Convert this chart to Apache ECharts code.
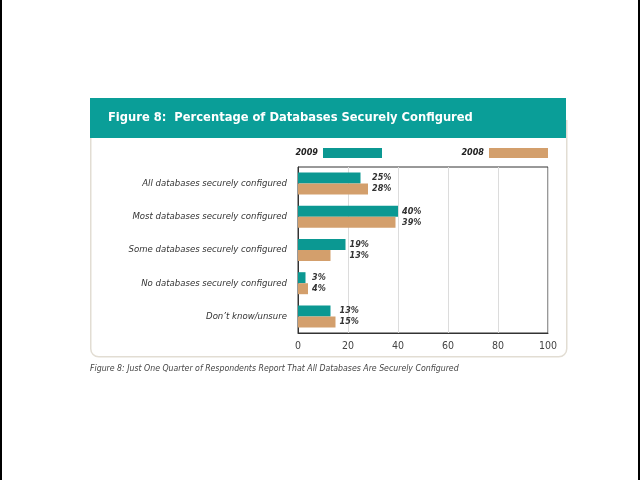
<!DOCTYPE html>
<html>
<head>
<meta charset="utf-8">
<script src="https://cdn.jsdelivr.net/npm/echarts@6/dist/echarts.min.js"></script>
<style>
  html, body { margin: 0; padding: 0; background: #fff; }
  #chart { width: 640px; height: 480px; }
</style>
</head>
<body>
<div id="chart"></div>
<script>
const categories = [
  'All databases securely configured',
  'Most databases securely configured',
  'Some databases securely configured',
  'No databases securely configured',
  'Don\u2019t know/unsure'
]
const values2009 = [25, 40, 19, 3, 13]
const values2008 = [28, 39, 13, 4, 15]
const xTicks = [0, 20, 40, 60, 80, 100]

const FONT = "'Liberation Sans Narrow', 'DejaVu Sans Condensed', 'Roboto Condensed', sans-serif"
const TEAL = '#0b9892'
const TAN = '#d39f6c'

// plot box
const gridLeft = 298, gridRight = 92, gridTop = 167, gridBottom = 147
const plotWidth = 640 - gridLeft - gridRight
const pxPerUnit = plotWidth / (xTicks[xTicks.length - 1] - xTicks[0])

// both labels of a category sit just right of the longer bar
const withLabels = (vals, other) => vals.map((v, i) => ({
  value: v,
  label: { offset: [(Math.max(v, other[i]) - v) * pxPerUnit, 0] }
}))

const labelStyle = {
  show: true,
  position: 'right',
  distance: 4,
  formatter: '{c}%',
  fontFamily: FONT,
  fontStyle: 'italic',
  fontWeight: 'bold',
  fontSize: 9,
  color: '#333'
}

const legendText = { fontFamily: FONT, fontStyle: 'italic', fontWeight: 'bold', fontSize: 9, color: '#222' }

const chart = echarts.init(document.getElementById('chart'), null, { renderer: 'canvas' })
chart.setOption({
  animation: false,
  backgroundColor: '#fff',
  textStyle: { fontFamily: FONT },
  graphic: [
    { type: 'rect', left: 0, top: 0, shape: { width: 2, height: 480 }, style: { fill: '#000' } },
    { type: 'rect', left: 638, top: 0, shape: { width: 2, height: 480 }, style: { fill: '#000' } },
    { type: 'rect', left: 90, top: 120, z: -10,
      shape: { width: 476, height: 236, r: [0, 0, 8, 8] },
      style: { fill: '#fff', stroke: '#e2ddd3', lineWidth: 1.5 } },
    { type: 'rect', left: 90, top: 98, shape: { width: 476, height: 40 }, style: { fill: '#0a9e98' } },
    { type: 'text', left: 108, top: 111,
      style: { text: 'Figure 8:  Percentage of Databases Securely Configured',
        fill: '#fff', font: "bold 12.8px " + FONT } },
    { type: 'text', left: 90, top: 364,
      style: { text: 'Figure 8: Just One Quarter of Respondents Report That All Databases Are Securely Configured',
        fill: '#444', font: "italic 8.7px " + FONT } }
  ],
  legend: [
    { data: ['2009'], right: 258, top: 148, padding: 0, align: 'right', itemWidth: 59, itemHeight: 10,
      icon: 'rect', textStyle: legendText },
    { data: ['2008'], right: 92, top: 148, padding: 0, align: 'right', itemWidth: 59, itemHeight: 10,
      icon: 'rect', textStyle: legendText }
  ],
  grid: {
    left: gridLeft, right: gridRight, top: gridTop, bottom: gridBottom,
    show: true, borderColor: '#333', borderWidth: 1, containLabel: false
  },
  xAxis: {
    type: 'value',
    min: xTicks[0], max: xTicks[xTicks.length - 1], interval: 20,
    axisLine: { show: true, lineStyle: { color: '#333' } },
    axisTick: { show: false },
    axisLabel: { color: '#444', fontSize: 10.5, fontFamily: FONT, margin: 8 },
    splitLine: { show: true, lineStyle: { color: '#dcdcdc' } }
  },
  yAxis: {
    type: 'category',
    data: categories,
    inverse: true,
    axisLine: { show: true, lineStyle: { color: '#333' } },
    axisTick: { show: false },
    axisLabel: { color: '#333', fontSize: 9.5, fontFamily: FONT, fontStyle: 'italic', margin: 11 }
  },
  series: [
    { name: '2009', type: 'bar', data: withLabels(values2009, values2008),
      barWidth: 11, barGap: '0%', itemStyle: { color: TEAL }, label: labelStyle },
    { name: '2008', type: 'bar', data: withLabels(values2008, values2009),
      barWidth: 11, barGap: '0%', itemStyle: { color: TAN }, label: labelStyle }
  ]
})
</script>
</body>
</html>
